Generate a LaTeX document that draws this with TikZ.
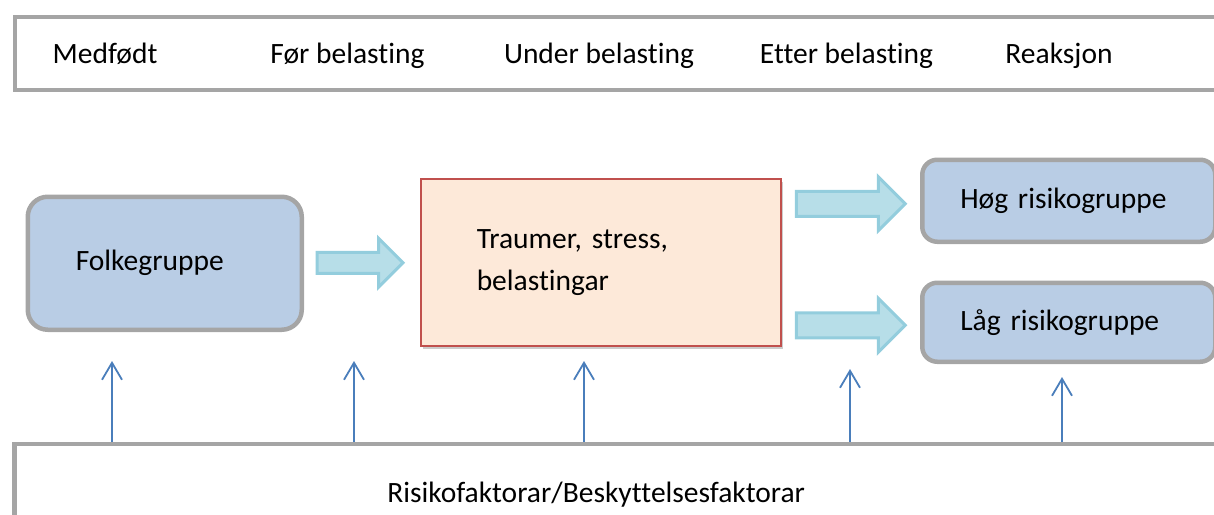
\documentclass[tikz,border=0pt]{standalone}
\usepackage{fontspec}
\setmainfont{Carlito}[Ligatures={CommonOff, ContextualOff, RareOff}, RawFeature={-liga;-dlig;-calt;-clig;-hlig}]
\usetikzlibrary{arrows.meta, shadows, calc, positioning}

\definecolor{rammegraa}{HTML}{A5A5A5}
\definecolor{boksblaa}{HTML}{B9CDE5}
\definecolor{pilfyll}{HTML}{B7DEE8}
\definecolor{pilkant}{HTML}{93CDDD}
\definecolor{fersken}{HTML}{FDE9D9}
\definecolor{raudkant}{HTML}{C0504D}
\definecolor{strekblaa}{HTML}{4A7EBB}

\tikzset{
  pics/blokkpil/.style n args={4}{code={
    \draw[draw=pilkant, fill=pilfyll, line width=3pt]
      (-#1/2,-#2) -- (#1/2-#4,-#2) -- (#1/2-#4,-#3) -- (#1/2,0)
      -- (#1/2-#4,#3) -- (#1/2-#4,#2) -- (-#1/2,#2) -- cycle;
  }}
}

\begin{document}
\begin{tikzpicture}[
    x=1pt, y=-1pt,
    font=\fontsize{29.5}{42}\selectfont,
    ramme/.style={rectangle, draw=rammegraa, line width=4.5pt, inner sep=0pt},
    gruppe/.style={rectangle, draw=rammegraa, fill=boksblaa, line width=4.5pt,
                   rounded corners=15pt, align=left, anchor=north west},
    hending/.style={rectangle, draw=raudkant, fill=fersken, line width=1.5pt,
                    align=left, anchor=north west, inner xsep=56pt,
                    text width=248pt, minimum height=167pt,
                    drop shadow={shadow xshift=2pt, shadow yshift=-3pt, opacity=0.4}},
    fase/.style={inner sep=0pt, anchor=base},
    pil/.style={-{Straight Barb[length=17pt, width=20pt]}, draw=strekblaa,
                line width=1.8pt},
]
\useasboundingbox (0,0) rectangle (1214,514);
\clip (0,0) rectangle (1214,514);

% fasar
\node[ramme, anchor=north west, minimum width=1230pt, minimum height=73pt]
    (fasar) at (12.5,14.5) {};
\node[fase] (medfodt) at (105,63) {Medfødt};
\node[fase] (foer) at (347.5,63) {Før belasting};
\node[fase] (under) at (599,63) {Under belasting};
\node[fase] (etter) at (846.5,63) {Etter belasting};
\node[fase] (reaksjon) at (1059,63) {Reaksjon};

% grupper og belasting
\node[gruppe, rounded corners=20pt, inner xsep=48pt, text width=178pt,
      minimum height=133pt] (folk) at (25.5,194.5) {Folkegruppe};
\node[hending] (traum) at (420,178) {Traumer, stress,\\belastingar};
\node[gruppe, inner xsep=38pt, text width=217pt, minimum height=82pt]
    (hoeg) at (920,157.5) {Høg risikogruppe};
\node[gruppe, inner xsep=38pt, text width=217pt, minimum height=79pt]
    (laag) at (920,280.5) {Låg risikogruppe};

\pic[xshift=-2pt] (pil1) at ($(folk.east)!0.5!(traum.west)$)
    {blokkpil={86}{10.5}{24.5}{24.5}};
\pic[yshift=-3pt] (pil2) at ($(traum.east |- hoeg.west)!0.5!(hoeg.west)$)
    {blokkpil={109}{12.5}{27}{27}};
\pic[yshift=-3pt] (pil3) at ($(traum.east |- laag.west)!0.5!(laag.west)$)
    {blokkpil={109}{12.5}{27}{27}};

% faktorar
\node[ramme, anchor=north west, align=left, inner xsep=373pt, text width=900pt,
      minimum height=101pt] (faktor) at (12,441.5)
    {Risikofaktorar/Beskyttelsesfaktorar};

\coordinate (u1) at (112,361);
\coordinate (u2) at (354,361);
\coordinate (u3) at (584,361);
\coordinate (u4) at (850,369);
\coordinate (u5) at (1062,377);
\draw[pil] (faktor.north -| u1) -- (u1);
\draw[pil] (faktor.north -| u2) -- (u2);
\draw[pil] (faktor.north -| u3) -- (u3);
\draw[pil] (faktor.north -| u4) -- (u4);
\draw[pil] (faktor.north -| u5) -- (u5);
\end{tikzpicture}
\end{document}
